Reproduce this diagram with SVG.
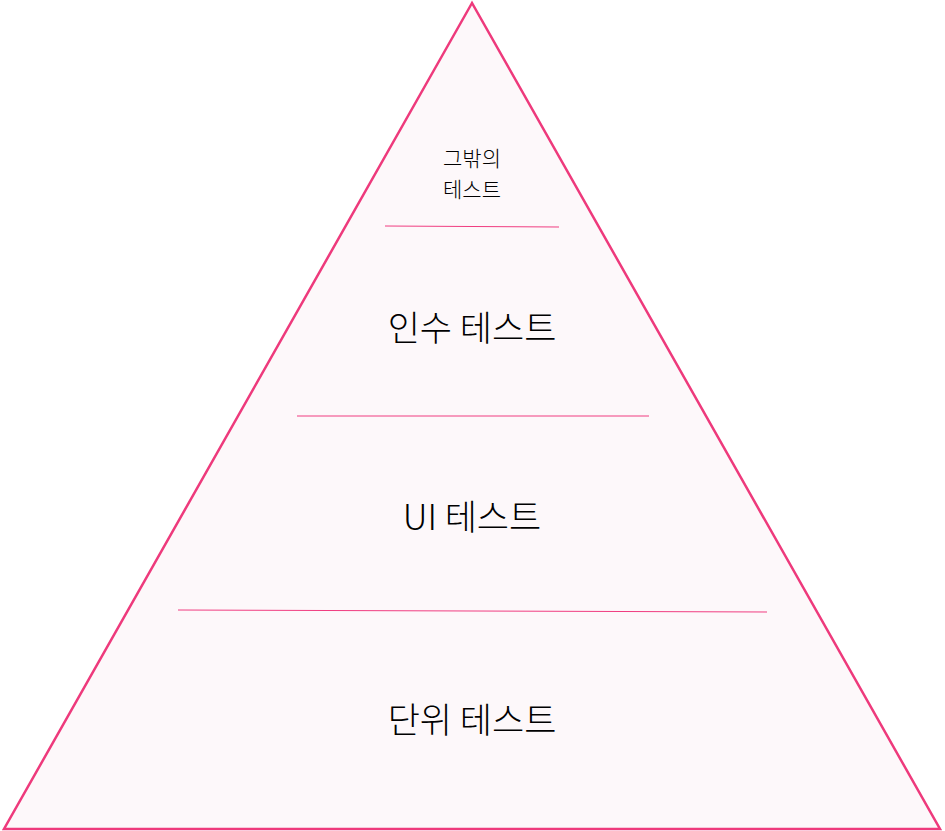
<svg xmlns="http://www.w3.org/2000/svg" width="945" height="831" viewBox="0 0 945 831">
<style>
.t{font-family:"Noto Sans CJK KR","Noto Sans",sans-serif;fill:#000;text-anchor:middle;font-weight:300}
.big{font-size:35px}
.small{font-size:21px}
.sep{stroke:#f03d80;stroke-width:1;fill:none}
</style>
<g id="pyramid">
<polygon points="472,3 4,829 940,829" fill="#fdf8fa" stroke="#ee3a7c" stroke-width="2.5"/>
</g>
<g id="connectors">
<line class="sep" x1="385" y1="226" x2="559" y2="227"/>
<line class="sep" x1="297" y1="416" x2="649" y2="416"/>
<line class="sep" x1="178" y1="610" x2="767" y2="612"/>
</g>
<g id="other"><text class="t small" x="472" y="166"><tspan x="472" y="166">그밖의</tspan><tspan x="472" y="197">테스트</tspan></text></g>
<g id="acceptance"><text class="t big" x="472" y="341">인수 테스트</text></g>
<g id="ui"><text class="t big" x="472" y="530">UI 테스트</text></g>
<g id="unit"><text class="t big" x="472" y="733">단위 테스트</text></g>
</svg>
